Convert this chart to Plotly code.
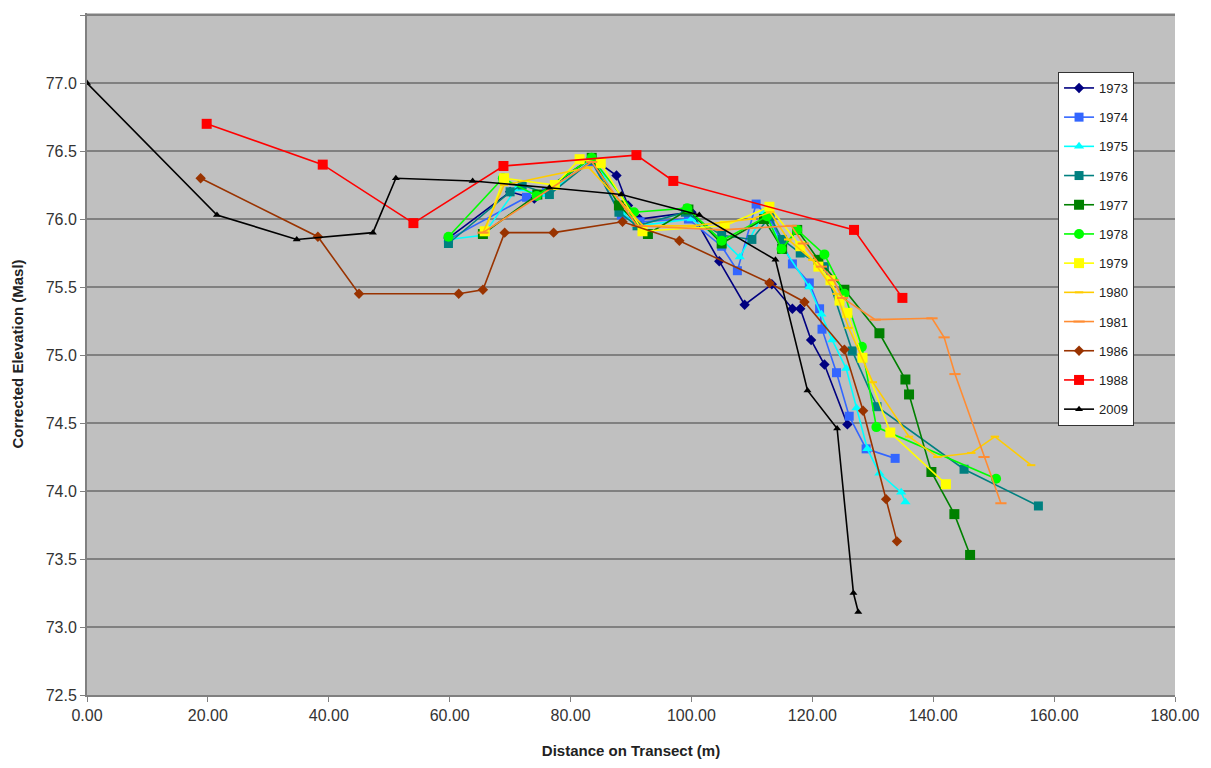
import plotly.graph_objects as go

years = ["1973", "1974", "1975", "1976", "1977", "1978", "1979", "1980", "1981", "1986", "1988", "2009"]

x_1973 = [59.8, 70.0, 74.0, 83.5, 87.6, 89.5, 91.4, 100.0, 104.6, 108.8, 113.3, 116.7, 118.0, 119.8, 122.0, 125.8]
y_1973 = [75.86, 76.20, 76.15, 76.45, 76.32, 76.10, 76.00, 76.05, 75.69, 75.37, 75.52, 75.34, 75.34, 75.11, 74.93, 74.49]

x_1974 = [59.8, 72.7, 76.0, 83.5, 88.4, 91.5, 99.5, 105.0, 107.6, 110.7, 113.0, 116.7, 119.5, 121.2, 121.6, 124.0, 126.1, 128.9, 133.7]
y_1974 = [75.85, 76.16, 76.20, 76.42, 76.03, 75.98, 76.00, 75.80, 75.62, 76.11, 76.00, 75.67, 75.53, 75.34, 75.19, 74.87, 74.55, 74.31, 74.24]

x_1975 = [59.8, 65.5, 71.0, 76.0, 84.0, 88.5, 91.0, 100.0, 105.0, 108.0, 112.0, 115.0, 119.5, 121.5, 123.3, 125.6, 127.3, 129.1, 131.1, 134.7, 135.4]
y_1975 = [75.85, 75.88, 76.22, 76.18, 76.45, 76.05, 75.95, 76.00, 75.85, 75.72, 76.05, 75.80, 75.50, 75.30, 75.11, 74.90, 74.61, 74.31, 74.13, 73.99, 73.92]

x_1976 = [59.8, 70.0, 72.0, 76.5, 83.5, 88.0, 91.0, 99.0, 105.0, 110.0, 113.0, 115.0, 118.0, 122.0, 126.6, 130.7, 145.1, 157.4]
y_1976 = [75.82, 76.20, 76.25, 76.18, 76.43, 76.05, 75.95, 76.05, 75.88, 75.85, 76.02, 75.85, 75.75, 75.65, 75.03, 74.62, 74.16, 73.89]

x_1977 = [65.5, 74.5, 83.5, 88.0, 92.8, 99.5, 105.0, 112.0, 115.0, 117.5, 121.0, 125.3, 131.1, 135.4, 136.0, 139.7, 143.5, 146.1]
y_1977 = [75.89, 76.18, 76.45, 76.10, 75.89, 76.07, 75.82, 76.00, 75.78, 75.92, 75.70, 75.48, 75.16, 74.82, 74.71, 74.14, 73.83, 73.53]

x_1978 = [59.8, 68.8, 74.4, 83.5, 90.5, 99.3, 105.0, 112.5, 114.9, 117.5, 122.0, 125.3, 128.2, 130.6, 150.4]
y_1978 = [75.87, 76.30, 76.17, 76.45, 76.05, 76.08, 75.84, 76.02, 75.78, 75.92, 75.74, 75.45, 75.06, 74.47, 74.09]

x_1979 = [65.8, 69.0, 77.4, 81.5, 85.0, 91.9, 105.5, 112.9, 118.0, 121.0, 123.0, 124.5, 125.8, 128.3, 132.9, 142.1]
y_1979 = [75.91, 76.30, 76.25, 76.44, 76.41, 75.91, 75.95, 76.09, 75.80, 75.65, 75.55, 75.40, 75.31, 74.98, 74.43, 74.05]

x_1980 = [65.5, 69.0, 83.0, 92.0, 100.0, 110.0, 113.0, 116.0, 120.0, 124.0, 126.0, 130.0, 136.0, 140.7, 146.3, 150.2, 156.2]
y_1980 = [75.90, 76.25, 76.38, 75.95, 75.95, 76.00, 76.05, 75.85, 75.70, 75.45, 75.20, 74.80, 74.40, 74.25, 74.28, 74.40, 74.19]

x_1981 = [65.5, 83.5, 91.0, 105.0, 116.5, 118.5, 121.5, 123.5, 125.0, 130.4, 139.8, 141.8, 143.6, 148.4, 151.2]
y_1981 = [75.90, 76.42, 75.95, 75.92, 75.95, 75.82, 75.65, 75.55, 75.42, 75.26, 75.27, 75.13, 74.86, 74.25, 73.91]

x_1986 = [18.8, 38.2, 45.0, 61.5, 65.5, 69.1, 77.2, 88.6, 98.0, 112.9, 118.7, 125.3, 128.4, 132.2, 134.0]
y_1986 = [76.30, 75.87, 75.45, 75.45, 75.48, 75.90, 75.90, 75.98, 75.84, 75.53, 75.39, 75.04, 74.59, 73.94, 73.63]

x_1988 = [19.8, 39.0, 54.0, 68.9, 90.9, 97.0, 126.9, 134.9]
y_1988 = [76.70, 76.40, 75.97, 76.39, 76.47, 76.28, 75.92, 75.42]

x_2009 = [0.0, 21.5, 34.7, 47.3, 51.1, 63.8, 76.5, 88.4, 101.3, 113.9, 119.2, 124.1, 126.8, 127.6]
y_2009 = [77.0, 76.03, 75.85, 75.90, 76.30, 76.28, 76.23, 76.18, 76.03, 75.70, 74.74, 74.46, 73.25, 73.11]

xs = [x_1973, x_1974, x_1975, x_1976, x_1977, x_1978, x_1979, x_1980, x_1981, x_1986, x_1988, x_2009]
ys = [y_1973, y_1974, y_1975, y_1976, y_1977, y_1978, y_1979, y_1980, y_1981, y_1986, y_1988, y_2009]

colors = ["#000080", "#3366FF", "#00FFFF", "#008080", "#008000", "#00FF00",
          "#FFFF00", "#FFCC00", "#FF8C33", "#993300", "#FF0000", "#000000"]
symbols = ["diamond", "square", "triangle-up", "square", "square", "circle",
           "square", "line-ew", "line-ew", "diamond", "square", "triangle-up"]
sizes = [8, 9, 9, 9, 10, 10, 10, 6, 8, 8, 10, 7]

fig = go.Figure()
for i, yr in enumerate(years):
    sym = symbols[i]
    if sym == "line-ew":
        marker = dict(symbol=sym, size=sizes[i], color=colors[i],
                      line=dict(color=colors[i], width=2))
    else:
        marker = dict(symbol=sym, size=sizes[i], color=colors[i], line=dict(width=0))
    fig.add_trace(go.Scatter(
        x=xs[i], y=ys[i], name=yr, mode="lines+markers",
        line=dict(color=colors[i], width=1.6),
        marker=marker, legendgroup=yr,
    ))

fig.update_layout(
    width=1211, height=768,
    margin=dict(l=79, r=44, t=5, b=81),
    paper_bgcolor="white",
    plot_bgcolor="#C0C0C0",
    font=dict(family="Liberation Sans, Arial, sans-serif", size=15, color="#333333"),
    showlegend=True,
    legend=dict(
        x=0.8925, y=0.9135, xanchor="left", yanchor="top",
        bgcolor="white", bordercolor="#333333", borderwidth=1,
        font=dict(size=13, color="#222222"),
        tracegroupgap=9.3, traceorder="grouped",
        itemwidth=30,
    ),
    xaxis=dict(
        range=[0, 180], dtick=20, tickformat=".2f",
        showgrid=False, zeroline=False, automargin=False,
        showline=True, linecolor="#808080", linewidth=2,
        ticks="outside", ticklen=5, tickcolor="#808080",
        tickfont=dict(size=16, color="#333333"),
        title=dict(text="<b>Distance on Transect (m)</b>", font=dict(size=15, color="#222222"), standoff=22),
    ),
    yaxis=dict(
        range=[72.5, 77.515], dtick=0.5, tickformat=".1f",
        showgrid=True, gridcolor="#808080", gridwidth=2,
        zeroline=False, automargin=False,
        showline=True, linecolor="#808080", linewidth=2,
        ticks="outside", ticklen=5, tickcolor="#808080",
        tickfont=dict(size=16, color="#333333"),
        title=dict(text="<b>Corrected Elevation (Masl)</b>", font=dict(size=15, color="#222222"), standoff=18),
    ),
)

fig.write_html("out.html")
